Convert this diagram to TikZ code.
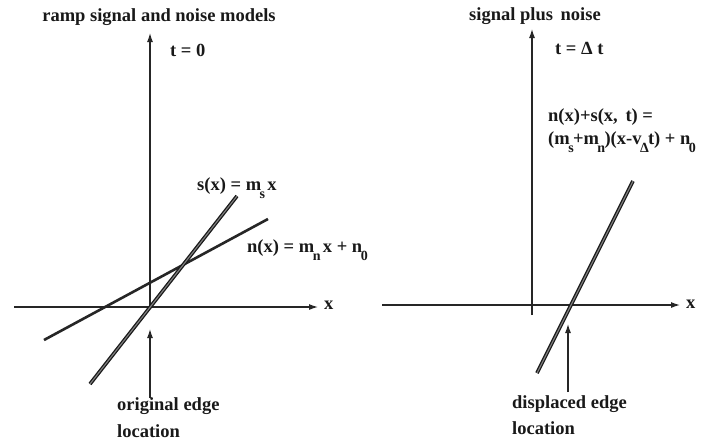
\documentclass[tikz,border=0pt]{standalone}
\usepackage{fontspec}
\setmainfont{Liberation Serif}
\usetikzlibrary{arrows.meta}
\newcommand\lowsub[1]{\kern-0.08em\raisebox{-0.45em}{\fontsize{14}{14}\selectfont #1}\kern-0.04em}
\tikzset{
  lbl/.style={font=\fontsize{18.5}{20}\selectfont\bfseries, inner sep=0pt, text=black!90},
  axis/.style={line width=1.2pt, draw=black!85},
  tip/.style={-{Latex[length=9pt,width=6pt]}},
  sigline/.style={draw=black!90, double=black!50, double distance=1.1pt, line width=1.3pt},
  noiseline/.style={draw=black!85, line width=2.6pt},
}
\begin{document}
\begin{tikzpicture}[x=1pt,y=-1pt]
\useasboundingbox[fill=white] (0,0) rectangle (701,440);
% ---------- left panel ----------
\node[lbl] (Ltitle) at (159,17) {ramp signal and noise models};
\coordinate (Lo) at (150,307);
\coordinate (LyT) at (150,33);
\coordinate (LxL) at (14,307);
\coordinate (LxR) at (318,307);
\draw[axis,tip] (Lo) -- (LyT);
\draw[axis,tip] (LxL) -- (LxR);
\node[lbl,anchor=west] (Lx) at (324,305) {x};
\node[lbl,anchor=west] (Lt) at (170,50) {t = 0};
\coordinate (n1) at (44,340);
\coordinate (n2) at (268,219);
\draw[noiseline] (n1) -- (n2);
\coordinate (s1) at (90,384);
\coordinate (s2) at (237,196);
\draw[sigline] (s1) -- (s2);
\node[lbl,anchor=base west] (slab) at (197,190) {s(x) = m\lowsub{s}\,x};
\node[lbl,anchor=base west] (nlab) at (247,252) {n(x) = m\lowsub{n}\,x + n\lowsub{0}};
\node[lbl,anchor=west] (orig1) at (117,406) {original edge};
\node[lbl,anchor=west] (orig2) at (117,431) {location};
\coordinate (oa1) at (150,398);
\coordinate (oa2) at (150,329);
\draw[axis,tip] (oa1) -- (oa2);
% ---------- right panel ----------
\node[lbl] (Rtitle) at (535,16) {signal plus\, noise};
\coordinate (Rb) at (532,315);
\coordinate (RyT) at (532,29);
\coordinate (RxL) at (382,305);
\coordinate (RxR) at (680,305);
\draw[axis,tip] (Rb) -- (RyT);
\draw[axis,tip] (RxL) -- (RxR);
\node[lbl,anchor=west] (Rx) at (686,304) {x};
\node[lbl,anchor=west] (Rt) at (555,48) {t = Δ t};
\node[lbl,anchor=base west] (eq1) at (548,121) {n(x)+s(x,\, t) =};
\node[lbl,anchor=base west] (eq2) at (548,144) {(m\lowsub{s}+m\lowsub{n})(x-v\lowsub{Δ}t) + n\lowsub{0}};
\coordinate (r1) at (537,373);
\coordinate (r2) at (633,181);
\draw[sigline] (r1) -- (r2);
\coordinate (da1) at (568,392);
\coordinate (da2) at (568,324);
\draw[axis,tip] (da1) -- (da2);
\node[lbl,anchor=west] (disp1) at (512,404) {displaced edge};
\node[lbl,anchor=west] (disp2) at (512,428) {location};
\end{tikzpicture}
\end{document}
